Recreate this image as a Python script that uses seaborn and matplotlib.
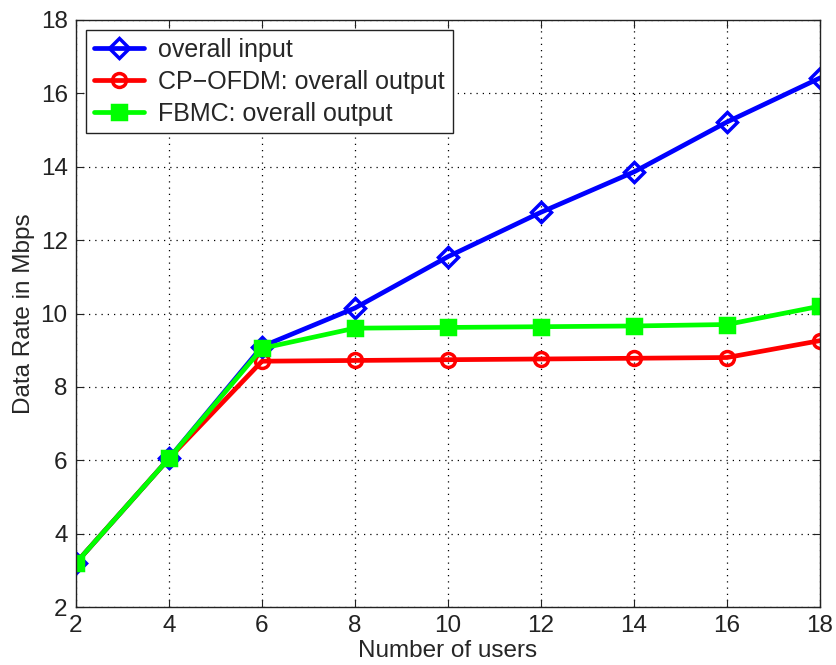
import matplotlib
matplotlib.use("Agg")
import matplotlib.pyplot as plt
import seaborn as sns
import pandas as pd

users = [2, 4, 6, 8, 10, 12, 14, 16, 18]
overall_input = [3.2, 6.05, 9.1, 10.15, 11.55, 12.76, 13.86, 15.22, 16.42]
cpofdm_output = [3.2, 6.05, 8.7, 8.72, 8.74, 8.76, 8.78, 8.8, 9.26]
fbmc_output = [3.2, 6.05, 9.05, 9.6, 9.62, 9.64, 9.66, 9.7, 10.2]
series_names = ["overall input", "CP\u2212OFDM: overall output", "FBMC: overall output"]
xticks = [2, 4, 6, 8, 10, 12, 14, 16, 18]
yticks = [2, 4, 6, 8, 10, 12, 14, 16, 18]

sns.set_style("white")
plt.rcParams["font.family"] = ["Liberation Sans", "DejaVu Sans"]

fig = plt.figure(figsize=(8.36, 6.65), dpi=100)
ax = fig.add_axes([76/836, 58/665, 744/836, 587/665])

styles = [
    (overall_input, "#0000ff", "D", "none", 10),
    (cpofdm_output, "#ff0000", "o", "none", 10),
    (fbmc_output, "#00ff00", "s", "#00ff00", 10),
]
for name, (vals, col, mk, mfc, ms) in zip(series_names, styles):
    df = pd.DataFrame({"x": users, "y": vals})
    sns.lineplot(data=df, x="x", y="y", ax=ax, color=col, linewidth=3.4,
                 marker=mk, markersize=ms, markerfacecolor=mfc,
                 markeredgecolor=col, markeredgewidth=2.5, label=name)

ax.set_xlim(2, 18)
ax.set_ylim(2, 18)
ax.set_xticks(xticks)
ax.set_yticks(yticks)
ax.grid(True, color="black", linestyle=(0, (1, 4)), linewidth=0.9)
ax.tick_params(direction="in", length=6, labelsize=17.5, colors="#222222",
               top=True, right=True, bottom=True, left=True, pad=6)
for s in ax.spines.values():
    s.set_color("#222222")
    s.set_linewidth(1.0)
ax.set_xlabel("Number of users", fontsize=17.5, labelpad=2)
ax.set_ylabel("Data Rate in Mbps", fontsize=17.5, labelpad=4)

leg = ax.legend(loc="upper left", fontsize=18, frameon=True, fancybox=False,
                edgecolor="#222222", framealpha=1, handlelength=2.0,
                borderpad=0.3, labelspacing=0.32, handletextpad=0.6,
                borderaxespad=0.4)
leg.get_frame().set_linewidth(1.0)

fig.savefig("out.png", dpi=100)
